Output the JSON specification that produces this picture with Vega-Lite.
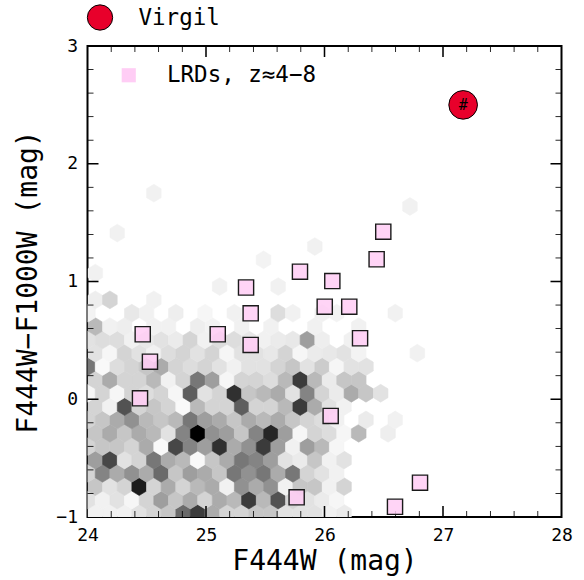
{
  "$schema": "https://vega.github.io/schema/vega-lite/v6.json",
  "width": 474,
  "height": 471,
  "autosize": {"type": "none"},
  "padding": {"left": 87.5, "top": 46, "right": 22.5, "bottom": 63},
  "background": "white",
  "config": {
    "view": {"stroke": "black", "strokeWidth": 2},
    "font": "DejaVu Sans Mono",
    "axis": {
      "labelFont": "DejaVu Sans Mono", "titleFont": "DejaVu Sans Mono",
      "labelColor": "black", "titleColor": "black",
      "domain": false, "grid": false, "ticks": false, "titleFontWeight": "normal",
      "labelFontSize": 18, "titleFontSize": 28, "labelFlush": false, "labelOverlap": false
    },
    "legend": {"labelFont": "DejaVu Sans Mono", "labelColor": "black", "labelFontSize": 22.5}
  },
  "datasets": {
    "ticks": [
      {"x":24.2,"y":-1,"side":"b","k":"minor"},{"x":24.4,"y":-1,"side":"b","k":"minor"},{"x":24.6,"y":-1,"side":"b","k":"minor"},{"x":24.8,"y":-1,"side":"b","k":"minor"},{"x":25,"y":-1,"side":"b","k":"major"},{"x":25.2,"y":-1,"side":"b","k":"minor"},{"x":25.4,"y":-1,"side":"b","k":"minor"},{"x":25.6,"y":-1,"side":"b","k":"minor"},{"x":25.8,"y":-1,"side":"b","k":"minor"},{"x":26,"y":-1,"side":"b","k":"major"},{"x":26.2,"y":-1,"side":"b","k":"minor"},{"x":26.4,"y":-1,"side":"b","k":"minor"},{"x":26.6,"y":-1,"side":"b","k":"minor"},{"x":26.8,"y":-1,"side":"b","k":"minor"},{"x":27,"y":-1,"side":"b","k":"major"},{"x":27.2,"y":-1,"side":"b","k":"minor"},{"x":27.4,"y":-1,"side":"b","k":"minor"},{"x":27.6,"y":-1,"side":"b","k":"minor"},{"x":27.8,"y":-1,"side":"b","k":"minor"},
      {"x":24.2,"y":3,"side":"t","k":"minor"},{"x":24.4,"y":3,"side":"t","k":"minor"},{"x":24.6,"y":3,"side":"t","k":"minor"},{"x":24.8,"y":3,"side":"t","k":"minor"},{"x":25,"y":3,"side":"t","k":"major"},{"x":25.2,"y":3,"side":"t","k":"minor"},{"x":25.4,"y":3,"side":"t","k":"minor"},{"x":25.6,"y":3,"side":"t","k":"minor"},{"x":25.8,"y":3,"side":"t","k":"minor"},{"x":26,"y":3,"side":"t","k":"major"},{"x":26.2,"y":3,"side":"t","k":"minor"},{"x":26.4,"y":3,"side":"t","k":"minor"},{"x":26.6,"y":3,"side":"t","k":"minor"},{"x":26.8,"y":3,"side":"t","k":"minor"},{"x":27,"y":3,"side":"t","k":"major"},{"x":27.2,"y":3,"side":"t","k":"minor"},{"x":27.4,"y":3,"side":"t","k":"minor"},{"x":27.6,"y":3,"side":"t","k":"minor"},{"x":27.8,"y":3,"side":"t","k":"minor"},
      {"x":24,"y":-0.8,"side":"l","k":"minor"},{"x":24,"y":-0.6,"side":"l","k":"minor"},{"x":24,"y":-0.4,"side":"l","k":"minor"},{"x":24,"y":-0.2,"side":"l","k":"minor"},{"x":24,"y":0,"side":"l","k":"major"},{"x":24,"y":0.2,"side":"l","k":"minor"},{"x":24,"y":0.4,"side":"l","k":"minor"},{"x":24,"y":0.6,"side":"l","k":"minor"},{"x":24,"y":0.8,"side":"l","k":"minor"},{"x":24,"y":1,"side":"l","k":"major"},{"x":24,"y":1.2,"side":"l","k":"minor"},{"x":24,"y":1.4,"side":"l","k":"minor"},{"x":24,"y":1.6,"side":"l","k":"minor"},{"x":24,"y":1.8,"side":"l","k":"minor"},{"x":24,"y":2,"side":"l","k":"major"},{"x":24,"y":2.2,"side":"l","k":"minor"},{"x":24,"y":2.4,"side":"l","k":"minor"},{"x":24,"y":2.6,"side":"l","k":"minor"},{"x":24,"y":2.8,"side":"l","k":"minor"},
      {"x":28,"y":-0.8,"side":"r","k":"minor"},{"x":28,"y":-0.6,"side":"r","k":"minor"},{"x":28,"y":-0.4,"side":"r","k":"minor"},{"x":28,"y":-0.2,"side":"r","k":"minor"},{"x":28,"y":0,"side":"r","k":"major"},{"x":28,"y":0.2,"side":"r","k":"minor"},{"x":28,"y":0.4,"side":"r","k":"minor"},{"x":28,"y":0.6,"side":"r","k":"minor"},{"x":28,"y":0.8,"side":"r","k":"minor"},{"x":28,"y":1,"side":"r","k":"major"},{"x":28,"y":1.2,"side":"r","k":"minor"},{"x":28,"y":1.4,"side":"r","k":"minor"},{"x":28,"y":1.6,"side":"r","k":"minor"},{"x":28,"y":1.8,"side":"r","k":"minor"},{"x":28,"y":2,"side":"r","k":"major"},{"x":28,"y":2.2,"side":"r","k":"minor"},{"x":28,"y":2.4,"side":"r","k":"minor"},{"x":28,"y":2.6,"side":"r","k":"minor"},{"x":28,"y":2.8,"side":"r","k":"minor"}
    ],
    "hex": [
      {"x":24.066,"y":-0.969,"g":0.5},{"x":24.189,"y":-0.969,"g":0.5},{"x":24.313,"y":-0.969,"g":0.5},{"x":24.436,"y":-0.969,"g":1},{"x":24.56,"y":-0.969,"g":1.5},{"x":24.683,"y":-0.969,"g":2},{"x":24.807,"y":-0.969,"g":5.5},{"x":24.93,"y":-0.969,"g":7.5},{"x":25.054,"y":-0.969,"g":3},{"x":25.177,"y":-0.969,"g":1.5},{"x":25.301,"y":-0.969,"g":1.5},{"x":25.424,"y":-0.969,"g":2},{"x":25.548,"y":-0.969,"g":2},{"x":25.671,"y":-0.969,"g":1},{"x":25.795,"y":-0.969,"g":1},{"x":25.918,"y":-0.969,"g":1},{"x":26.042,"y":-0.969,"g":0.5},{"x":26.165,"y":-0.969,"g":0.7},
      {"x":24.004,"y":-0.856,"g":1},{"x":24.127,"y":-0.856,"g":0.5},{"x":24.251,"y":-0.856,"g":1},{"x":24.374,"y":-0.856,"g":0.3},{"x":24.498,"y":-0.856,"g":1.5},{"x":24.621,"y":-0.856,"g":3.5},{"x":24.745,"y":-0.856,"g":2},{"x":24.868,"y":-0.856,"g":3},{"x":24.992,"y":-0.856,"g":1.5},{"x":25.115,"y":-0.856,"g":3},{"x":25.239,"y":-0.856,"g":2.5},{"x":25.362,"y":-0.856,"g":7.5},{"x":25.486,"y":-0.856,"g":2.5},{"x":25.609,"y":-0.856,"g":6.5},{"x":25.733,"y":-0.856,"g":1.5},{"x":25.856,"y":-0.856,"g":1},{"x":25.98,"y":-0.856,"g":0.7},{"x":26.103,"y":-0.856,"g":0.3},
      {"x":24.066,"y":-0.742,"g":2},{"x":24.189,"y":-0.742,"g":1},{"x":24.313,"y":-0.742,"g":1.5},{"x":24.436,"y":-0.742,"g":9},{"x":24.56,"y":-0.742,"g":1.5},{"x":24.683,"y":-0.742,"g":3},{"x":24.807,"y":-0.742,"g":1.5},{"x":24.93,"y":-0.742,"g":2.5},{"x":25.054,"y":-0.742,"g":3},{"x":25.177,"y":-0.742,"g":0.5},{"x":25.301,"y":-0.742,"g":4},{"x":25.424,"y":-0.742,"g":3},{"x":25.548,"y":-0.742,"g":4},{"x":25.671,"y":-0.742,"g":0.5},{"x":25.795,"y":-0.742,"g":2},{"x":25.918,"y":-0.742,"g":2},{"x":26.042,"y":-0.742,"g":0.5},{"x":26.165,"y":-0.742,"g":1.5},
      {"x":24.004,"y":-0.629,"g":1.5},{"x":24.127,"y":-0.629,"g":4.5},{"x":24.251,"y":-0.629,"g":3},{"x":24.374,"y":-0.629,"g":4},{"x":24.498,"y":-0.629,"g":3},{"x":24.621,"y":-0.629,"g":5.5},{"x":24.745,"y":-0.629,"g":2},{"x":24.868,"y":-0.629,"g":3.5},{"x":24.992,"y":-0.629,"g":3},{"x":25.115,"y":-0.629,"g":2},{"x":25.239,"y":-0.629,"g":5},{"x":25.362,"y":-0.629,"g":4},{"x":25.486,"y":-0.629,"g":5},{"x":25.609,"y":-0.629,"g":3},{"x":25.733,"y":-0.629,"g":5},{"x":25.856,"y":-0.629,"g":1.5},{"x":25.98,"y":-0.629,"g":1},{"x":26.103,"y":-0.629,"g":0.5},
      {"x":24.066,"y":-0.516,"g":3.5},{"x":24.189,"y":-0.516,"g":7},{"x":24.313,"y":-0.516,"g":1},{"x":24.436,"y":-0.516,"g":1.5},{"x":24.56,"y":-0.516,"g":5},{"x":24.683,"y":-0.516,"g":3},{"x":24.807,"y":-0.516,"g":2.5},{"x":24.93,"y":-0.516,"g":0.2},{"x":25.054,"y":-0.516,"g":2},{"x":25.177,"y":-0.516,"g":3},{"x":25.301,"y":-0.516,"g":5},{"x":25.424,"y":-0.516,"g":4.5},{"x":25.548,"y":-0.516,"g":3.5},{"x":25.671,"y":-0.516,"g":1},{"x":25.795,"y":-0.516,"g":0.7},{"x":25.918,"y":-0.516,"g":2},{"x":26.042,"y":-0.516,"g":0.5},{"x":26.165,"y":-0.516,"g":1},
      {"x":24.004,"y":-0.402,"g":1.5},{"x":24.127,"y":-0.402,"g":2},{"x":24.251,"y":-0.402,"g":2},{"x":24.374,"y":-0.402,"g":1.5},{"x":24.498,"y":-0.402,"g":3},{"x":24.621,"y":-0.402,"g":0.2},{"x":24.745,"y":-0.402,"g":7},{"x":24.868,"y":-0.402,"g":4.5},{"x":24.992,"y":-0.402,"g":3.5},{"x":25.115,"y":-0.402,"g":8},{"x":25.239,"y":-0.402,"g":3},{"x":25.362,"y":-0.402,"g":4},{"x":25.486,"y":-0.402,"g":7.5},{"x":25.609,"y":-0.402,"g":3.5},{"x":25.733,"y":-0.402,"g":0.5},{"x":25.856,"y":-0.402,"g":3.5},{"x":25.98,"y":-0.402,"g":2.5},{"x":26.103,"y":-0.402,"g":0.3},
      {"x":24.066,"y":-0.289,"g":2},{"x":24.189,"y":-0.289,"g":3},{"x":24.313,"y":-0.289,"g":2},{"x":24.436,"y":-0.289,"g":3},{"x":24.56,"y":-0.289,"g":2.5},{"x":24.683,"y":-0.289,"g":1},{"x":24.807,"y":-0.289,"g":4.5},{"x":24.93,"y":-0.289,"g":10},{"x":25.054,"y":-0.289,"g":4},{"x":25.177,"y":-0.289,"g":3.5},{"x":25.301,"y":-0.289,"g":2},{"x":25.424,"y":-0.289,"g":4.5},{"x":25.548,"y":-0.289,"g":8.5},{"x":25.671,"y":-0.289,"g":3.5},{"x":25.795,"y":-0.289,"g":0.3},{"x":25.918,"y":-0.289,"g":1.5},{"x":26.042,"y":-0.289,"g":1.2},{"x":26.165,"y":-0.289,"g":0.3},{"x":26.289,"y":-0.289,"g":2.5},{"x":26.536,"y":-0.289,"g":0.6},
      {"x":24.004,"y":-0.176,"g":1.5},{"x":24.127,"y":-0.176,"g":2},{"x":24.251,"y":-0.176,"g":3},{"x":24.374,"y":-0.176,"g":4},{"x":24.498,"y":-0.176,"g":2.5},{"x":24.621,"y":-0.176,"g":2},{"x":24.745,"y":-0.176,"g":2.5},{"x":24.868,"y":-0.176,"g":5},{"x":24.992,"y":-0.176,"g":3.5},{"x":25.115,"y":-0.176,"g":3},{"x":25.239,"y":-0.176,"g":2},{"x":25.362,"y":-0.176,"g":3},{"x":25.486,"y":-0.176,"g":2.5},{"x":25.609,"y":-0.176,"g":3},{"x":25.733,"y":-0.176,"g":2},{"x":25.856,"y":-0.176,"g":1.5},{"x":25.98,"y":-0.176,"g":1.2},{"x":26.103,"y":-0.176,"g":0.5},{"x":26.35,"y":-0.176,"g":0.7},{"x":26.597,"y":-0.176,"g":0.5},
      {"x":24.066,"y":-0.062,"g":1.5},{"x":24.189,"y":-0.062,"g":0.5},{"x":24.313,"y":-0.062,"g":6.5},{"x":24.436,"y":-0.062,"g":1.5},{"x":24.56,"y":-0.062,"g":2},{"x":24.683,"y":-0.062,"g":1.5},{"x":24.807,"y":-0.062,"g":0.2},{"x":24.93,"y":-0.062,"g":2.5},{"x":25.054,"y":-0.062,"g":1.5},{"x":25.177,"y":-0.062,"g":1.5},{"x":25.301,"y":-0.062,"g":6},{"x":25.424,"y":-0.062,"g":1.5},{"x":25.548,"y":-0.062,"g":1.5},{"x":25.671,"y":-0.062,"g":2.5},{"x":25.795,"y":-0.062,"g":7.5},{"x":25.918,"y":-0.062,"g":3},{"x":26.042,"y":-0.062,"g":1},{"x":26.165,"y":-0.062,"g":0.5},
      {"x":24.004,"y":0.051,"g":0.3},{"x":24.127,"y":0.051,"g":1.5},{"x":24.251,"y":0.051,"g":0.3},{"x":24.374,"y":0.051,"g":1.5},{"x":24.498,"y":0.051,"g":1.2},{"x":24.621,"y":0.051,"g":1.5},{"x":24.745,"y":0.051,"g":0.3},{"x":24.868,"y":0.051,"g":6},{"x":24.992,"y":0.051,"g":1},{"x":25.115,"y":0.051,"g":1.5},{"x":25.239,"y":0.051,"g":8},{"x":25.362,"y":0.051,"g":2},{"x":25.486,"y":0.051,"g":2.5},{"x":25.609,"y":0.051,"g":3},{"x":25.733,"y":0.051,"g":1},{"x":25.856,"y":0.051,"g":4.5},{"x":25.98,"y":0.051,"g":1.5},{"x":26.103,"y":0.051,"g":0.7},{"x":26.227,"y":0.051,"g":3},{"x":26.35,"y":0.051,"g":2},{"x":26.474,"y":0.051,"g":1},
      {"x":24.066,"y":0.164,"g":1.5},{"x":24.189,"y":0.164,"g":3},{"x":24.313,"y":0.164,"g":1.5},{"x":24.436,"y":0.164,"g":1.5},{"x":24.56,"y":0.164,"g":2.5},{"x":24.683,"y":0.164,"g":0.5},{"x":24.807,"y":0.164,"g":1.5},{"x":24.93,"y":0.164,"g":5},{"x":25.054,"y":0.164,"g":3.5},{"x":25.177,"y":0.164,"g":0.3},{"x":25.301,"y":0.164,"g":1.5},{"x":25.424,"y":0.164,"g":1.5},{"x":25.548,"y":0.164,"g":1.2},{"x":25.671,"y":0.164,"g":2.5},{"x":25.795,"y":0.164,"g":7.5},{"x":25.918,"y":0.164,"g":2.5},{"x":26.042,"y":0.164,"g":0.7},{"x":26.165,"y":0.164,"g":2},{"x":26.289,"y":0.164,"g":2},
      {"x":24.004,"y":0.278,"g":5},{"x":24.127,"y":0.278,"g":0.2},{"x":24.251,"y":0.278,"g":1.2},{"x":24.374,"y":0.278,"g":1.5},{"x":24.498,"y":0.278,"g":2},{"x":24.621,"y":0.278,"g":3},{"x":24.745,"y":0.278,"g":1.5},{"x":24.868,"y":0.278,"g":1.2},{"x":24.992,"y":0.278,"g":1.5},{"x":25.115,"y":0.278,"g":1},{"x":25.239,"y":0.278,"g":0.5},{"x":25.362,"y":0.278,"g":1},{"x":25.486,"y":0.278,"g":1},{"x":25.609,"y":0.278,"g":1.5},{"x":25.733,"y":0.278,"g":2},{"x":25.856,"y":0.278,"g":1},{"x":25.98,"y":0.278,"g":1.8},{"x":26.103,"y":0.278,"g":0.3},{"x":26.227,"y":0.278,"g":1},{"x":26.35,"y":0.278,"g":1},
      {"x":24.066,"y":0.391,"g":1},{"x":24.189,"y":0.391,"g":0.3},{"x":24.313,"y":0.391,"g":1.5},{"x":24.436,"y":0.391,"g":1},{"x":24.56,"y":0.391,"g":0.5},{"x":24.683,"y":0.391,"g":1.2},{"x":24.807,"y":0.391,"g":1.5},{"x":24.93,"y":0.391,"g":1},{"x":25.054,"y":0.391,"g":1.5},{"x":25.177,"y":0.391,"g":0.3},{"x":25.301,"y":0.391,"g":1},{"x":25.424,"y":0.391,"g":1},{"x":25.548,"y":0.391,"g":0.8},{"x":25.671,"y":0.391,"g":1.5},{"x":25.795,"y":0.391,"g":0.3},{"x":25.918,"y":0.391,"g":0.7},{"x":26.042,"y":0.391,"g":0.8},{"x":26.165,"y":0.391,"g":1},{"x":26.289,"y":0.391,"g":0.4},{"x":26.783,"y":0.391,"g":0.5},
      {"x":24.004,"y":0.504,"g":1},{"x":24.127,"y":0.504,"g":1.2},{"x":24.251,"y":0.504,"g":1.2},{"x":24.374,"y":0.504,"g":0.5},{"x":24.498,"y":0.504,"g":0.8},{"x":24.621,"y":0.504,"g":1},{"x":24.745,"y":0.504,"g":0.7},{"x":24.868,"y":0.504,"g":1.5},{"x":24.992,"y":0.504,"g":0.5},{"x":25.115,"y":0.504,"g":1.2},{"x":25.239,"y":0.504,"g":1.2},{"x":25.362,"y":0.504,"g":0.8},{"x":25.486,"y":0.504,"g":0.5},{"x":25.609,"y":0.504,"g":0.7},{"x":25.733,"y":0.504,"g":0.8},{"x":25.856,"y":0.504,"g":3.5},{"x":25.98,"y":0.504,"g":0.6},{"x":26.227,"y":0.504,"g":0.5},
      {"x":24.066,"y":0.617,"g":2.5},{"x":24.189,"y":0.617,"g":0.5},{"x":24.313,"y":0.617,"g":0.6},{"x":24.56,"y":0.617,"g":0.5},{"x":24.683,"y":0.617,"g":0.5},{"x":24.93,"y":0.617,"g":0.6},{"x":25.054,"y":0.617,"g":0.4},{"x":25.301,"y":0.617,"g":0.5},{"x":25.548,"y":0.617,"g":0.5},{"x":25.918,"y":0.617,"g":0.5},{"x":26.289,"y":0.617,"g":0.5},
      {"x":24.004,"y":0.731,"g":0.4},{"x":24.374,"y":0.731,"g":0.8},{"x":24.498,"y":0.731,"g":0.5},{"x":24.745,"y":0.731,"g":0.6},{"x":24.992,"y":0.731,"g":0.3},{"x":25.239,"y":0.731,"g":0.5},{"x":25.609,"y":0.731,"g":1.2},{"x":25.733,"y":0.731,"g":0.5},{"x":25.98,"y":0.731,"g":0.5},{"x":26.103,"y":0.731,"g":0.4},{"x":26.597,"y":0.731,"g":0.5},
      {"x":24.066,"y":0.844,"g":0.6},{"x":24.189,"y":0.844,"g":1.5},{"x":24.56,"y":0.844,"g":0.5},
      {"x":25.115,"y":0.957,"g":0.5},{"x":25.609,"y":0.957,"g":0.5},
      {"x":24.066,"y":1.071,"g":0.5},
      {"x":25.486,"y":1.184,"g":0.4},
      {"x":25.918,"y":1.297,"g":0.5},
      {"x":24.251,"y":1.411,"g":0.5},
      {"x":26.721,"y":1.637,"g":0.5},
      {"x":24.56,"y":1.75,"g":0.5}
    ],
    "lrd": [
      {"x":24.466,"y":0.552,"name":"LRDs, z≈4−8"},{"x":24.527,"y":0.319,"name":"LRDs, z≈4−8"},{"x":24.443,"y":0.008,"name":"LRDs, z≈4−8"},{"x":25.099,"y":0.552,"name":"LRDs, z≈4−8"},{"x":25.338,"y":0.949,"name":"LRDs, z≈4−8"},{"x":25.377,"y":0.73,"name":"LRDs, z≈4−8"},{"x":25.377,"y":0.461,"name":"LRDs, z≈4−8"},{"x":25.793,"y":1.083,"name":"LRDs, z≈4−8"},{"x":26.066,"y":1.004,"name":"LRDs, z≈4−8"},{"x":26.002,"y":0.786,"name":"LRDs, z≈4−8"},{"x":26.209,"y":0.786,"name":"LRDs, z≈4−8"},{"x":26.3,"y":0.518,"name":"LRDs, z≈4−8"},{"x":26.052,"y":-0.142,"name":"LRDs, z≈4−8"},{"x":25.765,"y":-0.833,"name":"LRDs, z≈4−8"},{"x":26.595,"y":-0.913,"name":"LRDs, z≈4−8"},{"x":26.806,"y":-0.709,"name":"LRDs, z≈4−8"},{"x":26.496,"y":1.423,"name":"LRDs, z≈4−8"},{"x":26.44,"y":1.189,"name":"LRDs, z≈4−8"}
    ],
    "virgil": [{"x":27.17,"y":2.5,"name":"Virgil"}]
  },
  "layer": [
    {
      "data": {"name": "hex"},
      "mark": {"type": "point", "shape": "M0,-1L0.822,-0.5L0.822,0.5L0,1L-0.822,0.5L-0.822,-0.5Z", "filled": true, "size": 316, "opacity": 1, "strokeWidth": 0.6, "clip": true},
      "encoding": {
        "x": {"field": "x", "type": "quantitative", "scale": {"domain": [24, 28], "nice": false, "zero": false},
              "axis": {"orient": "bottom", "values": [24, 25, 26, 27, 28], "labelPadding": 9, "title": "F444W (mag)", "titlePadding": 3, "format": "d"}},
        "y": {"field": "y", "type": "quantitative", "scale": {"domain": [-1, 3], "nice": false, "zero": false},
              "axis": {"orient": "left", "values": [-1, 0, 1, 2, 3], "labelPadding": 10, "title": "F444W−F1000W (mag)", "titlePadding": 13, "format": "d"}},
        "color": {"field": "g", "type": "quantitative", "scale": {"domain": [0, 10], "range": ["#ffffff", "#000000"]}, "legend": null},
        "stroke": {"field": "g", "type": "quantitative", "scale": {"domain": [0, 10], "range": ["#ffffff", "#000000"]}, "legend": null}
      }
    },
    {
      "data": {"name": "ticks"},
      "mark": {"type": "point", "filled": true, "color": "black", "opacity": 1, "strokeWidth": 0},
      "encoding": {
        "x": {"field": "x", "type": "quantitative", "scale": {"domain": [24, 28], "nice": false, "zero": false}, "axis": null},
        "y": {"field": "y", "type": "quantitative", "scale": {"domain": [-1, 3], "nice": false, "zero": false}, "axis": null},
        "shape": {"field": "side", "type": "nominal", "scale": {"domain": ["b", "t", "l", "r"], "range": ["M-0.07,-1L0.07,-1L0.07,0L-0.07,0Z", "M-0.07,0L0.07,0L0.07,1L-0.07,1Z", "M0,-0.07L1,-0.07L1,0.07L0,0.07Z", "M-1,-0.07L0,-0.07L0,0.07L-1,0.07Z"]}, "legend": null},
        "size": {"field": "k", "type": "nominal", "scale": {"domain": ["major", "minor"], "range": [484, 144]}, "legend": null}
      }
    },
    {
      "data": {"name": "lrd"},
      "mark": {"type": "point", "shape": "square", "filled": true, "size": 230, "stroke": "#1a1a1a", "strokeWidth": 1.4, "fillOpacity": 0.85},
      "encoding": {
        "x": {"field": "x", "type": "quantitative", "scale": {"domain": [24, 28], "nice": false, "zero": false}, "axis": null},
        "y": {"field": "y", "type": "quantitative", "scale": {"domain": [-1, 3], "nice": false, "zero": false}, "axis": null},
        "fill": {"field": "name", "type": "nominal", "scale": {"domain": ["LRDs, z≈4−8"], "range": ["#ffcdf5"]},
                 "legend": {"orient": "none", "legendX": 30, "legendY": 18, "symbolType": "square", "symbolSize": 200, "symbolStrokeWidth": 0, "symbolOpacity": 1, "labelFontSize": 22.5, "labelOffset": 27, "title": null, "padding": 0}}
      }
    },
    {
      "data": {"name": "virgil"},
      "mark": {"type": "point", "shape": "circle", "filled": true, "size": 820, "stroke": "black", "strokeWidth": 1, "opacity": 1},
      "encoding": {
        "x": {"field": "x", "type": "quantitative", "scale": {"domain": [24, 28], "nice": false, "zero": false}, "axis": null},
        "y": {"field": "y", "type": "quantitative", "scale": {"domain": [-1, 3], "nice": false, "zero": false}, "axis": null},
        "fill": {"field": "name", "type": "nominal", "scale": {"domain": ["Virgil"], "range": ["#e8002b"]},
                 "legend": {"orient": "none", "legendX": -1, "legendY": -42, "symbolType": "circle", "symbolSize": 640, "symbolStrokeColor": "black", "symbolStrokeWidth": 1, "symbolOpacity": 1, "labelFontSize": 22.5, "labelOffset": 25, "title": null, "padding": 0}}
      }
    },
    {
      "data": {"name": "virgil"},
      "mark": {"type": "text", "text": "#", "font": "DejaVu Sans Mono", "fontSize": 15, "color": "black", "align": "center", "baseline": "middle"},
      "encoding": {
        "x": {"field": "x", "type": "quantitative", "scale": {"domain": [24, 28], "nice": false, "zero": false}, "axis": null},
        "y": {"field": "y", "type": "quantitative", "scale": {"domain": [-1, 3], "nice": false, "zero": false}, "axis": null}
      }
    }
  ],
  "resolve": {
    "axis": {"x": "independent", "y": "independent"},
    "scale": {"fill": "independent"},
    "legend": {"fill": "independent"}
  }
}
